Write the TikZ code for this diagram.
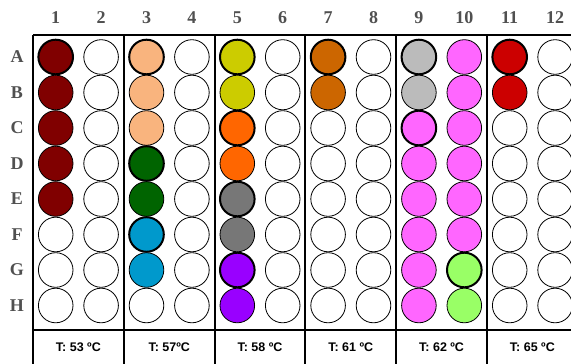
\documentclass[tikz,border=0pt]{standalone}
\usepackage{fontspec}
\setmainfont{Liberation Serif}
\setsansfont{Liberation Sans}
\usepackage{tikz}
\definecolor{labelgray}{HTML}{505050}
\definecolor{maroon}{HTML}{800000}
\definecolor{peach}{HTML}{F9B47E}
\definecolor{forest}{HTML}{006400}
\definecolor{cyan}{HTML}{0099CC}
\definecolor{olive}{HTML}{CCCC00}
\definecolor{orange}{HTML}{FF6600}
\definecolor{slate}{HTML}{777777}
\definecolor{violet}{HTML}{9900FF}
\definecolor{rust}{HTML}{CC6600}
\definecolor{silver}{HTML}{BBBBBB}
\definecolor{pink}{HTML}{FF66FF}
\definecolor{lime}{HTML}{99FF66}
\definecolor{red}{HTML}{CC0000}
% filled wells: \paint[first]{row col}{colour}
\newcommand{\paint}[3][]{\tikzset{well #2/.style={fill=#3,#1}}}
\paint[first]{A1}{maroon}\paint{B1}{maroon}\paint{C1}{maroon}\paint{D1}{maroon}\paint{E1}{maroon}
\paint[first]{A3}{peach}\paint{B3}{peach}\paint{C3}{peach}
\paint[first]{D3}{forest}\paint{E3}{forest}
\paint[first]{F3}{cyan}\paint{G3}{cyan}
\paint[first]{A5}{olive}\paint{B5}{olive}
\paint[first]{C5}{orange}\paint{D5}{orange}
\paint[first]{E5}{slate}\paint{F5}{slate}
\paint[first]{G5}{violet}\paint{H5}{violet}
\paint[first]{A7}{rust}\paint{B7}{rust}
\paint[first]{A9}{silver}\paint{B9}{silver}
\paint[first]{C9}{pink}\paint{D9}{pink}\paint{E9}{pink}\paint{F9}{pink}\paint{G9}{pink}\paint{H9}{pink}
\paint{A10}{pink}\paint{B10}{pink}\paint{C10}{pink}\paint{D10}{pink}\paint{E10}{pink}\paint{F10}{pink}
\paint[first]{G10}{lime}\paint{H10}{lime}
\paint[first]{A11}{red}\paint{B11}{red}

\begin{document}
\begin{tikzpicture}[
  x=1pt,y=-1pt,
  well/.style={circle,draw,line width=0.8pt,fill=white,minimum size=34.6pt,inner sep=0pt},
  first/.style={line width=2pt},
  head/.style={font=\fontsize{18}{18}\selectfont\bfseries,text=labelgray},
  temp/.style={font=\sffamily\bfseries\fontsize{12.5}{12.5}\selectfont},
  sep/.style={line width=2pt}
]
\useasboundingbox (0,0) rectangle (571,364);
\clip (0,0) rectangle (571,364);
% plate frame
\foreach \k in {0,...,6}
  \draw[sep] (33+90.8*\k,35) -- (33+90.8*\k,370);
\draw[sep] (33,35) -- (580,35);
\draw[sep] (33,330) -- (580,330);
% column and row headings
\foreach \c in {1,...,12}
  \node[head] (col\c) at (55.7+45.4*\c-45.4,18) {\c};
\foreach \r [count=\i] in {A,...,H}
  \node[head] (row\r) at (17,57+35.5*\i-35.5) {\r};
% wells
\foreach \r [count=\i] in {A,...,H}
  \foreach \c in {1,...,12}
    \node[well,well \r\c/.try] (w\r\c) at (55.7+45.4*\c-45.4,57+35.5*\i-35.5) {};
% temperatures
\foreach \t [count=\k] in {53 º,57º,58 º,61 º,62 º,65 º}
  \node[temp] (temp\k) at (78.4+90.8*\k-90.8,347) {T: \t C};
\end{tikzpicture}
\end{document}
